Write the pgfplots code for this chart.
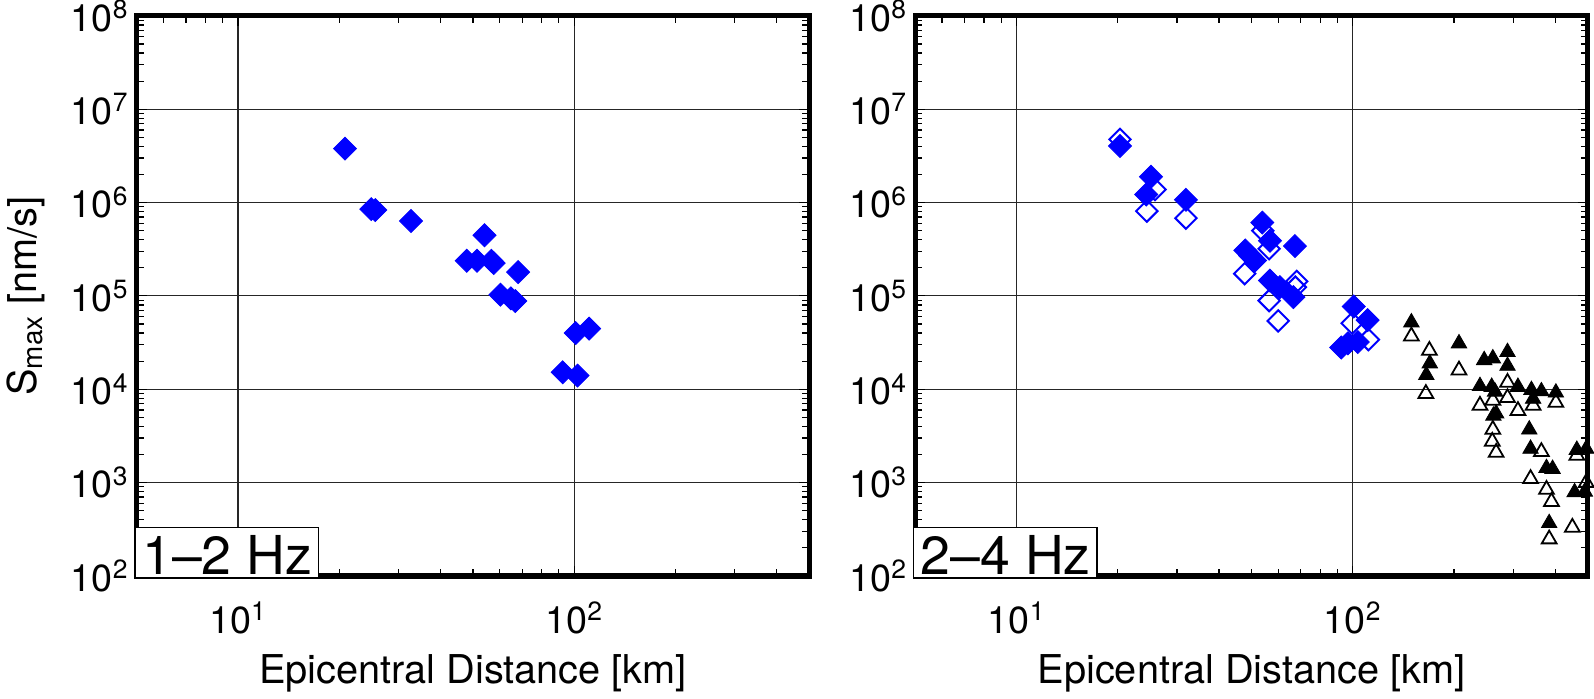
\documentclass[border=0pt]{standalone}
\usepackage{fontspec}
\setmainfont{TeX Gyre Heros}
\usepackage{pgfplots}
\pgfplotsset{compat=1.18}

% 1 px of the reference = 0.5pt
\pgfplotsset{
  panel/.style={
    scale only axis, width=338.5pt, height=282pt,
    xmin=5, xmax=500, ymin=1e2, ymax=1e8,
    xtick={10,100},
    xticklabels={10\textsuperscript{1},10\textsuperscript{2}},
    minor xtick={6,7,8,9,20,30,40,50,60,70,80,90,200,300,400},
    ytick={1e2,1e3,1e4,1e5,1e6,1e7,1e8},
    yticklabels={10\textsuperscript{2},10\textsuperscript{3},10\textsuperscript{4},
      10\textsuperscript{5},10\textsuperscript{6},10\textsuperscript{7},10\textsuperscript{8}},
    minor ytick={2e2,3e2,4e2,5e2,6e2,7e2,8e2,9e2,
                 2e3,3e3,4e3,5e3,6e3,7e3,8e3,9e3,
                 2e4,3e4,4e4,5e4,6e4,7e4,8e4,9e4,
                 2e5,3e5,4e5,5e5,6e5,7e5,8e5,9e5,
                 2e6,3e6,4e6,5e6,6e6,7e6,8e6,9e6,
                 2e7,3e7,4e7,5e7,6e7,7e7,8e7,9e7},
    grid=major, major grid style={black!85, line width=0.6pt},
    axis line style={line width=2.6pt},
    tick align=inside, major tick length=5pt, minor tick length=3.5pt,
    tick style={black, line width=0.6pt},
    ticklabel style={font=\fontsize{19}{19}\selectfont},
    yticklabel style={inner sep=0pt, xshift=-4pt},
    xticklabel style={inner sep=0pt, anchor=north},
    xticklabel shift=13pt,
    label style={font=\fontsize{20}{20}\selectfont},
    xlabel style={at={(axis description cs:0.5,0)}, anchor=base, yshift=-54pt},
    xlabel={Epicentral Distance [km]},
  },
  fdia/.style={only marks, mark=square*, mark size=4.1pt,
    mark options={rotate=45, draw=blue, fill=blue, line width=0.4pt}},
  odia/.style={only marks, mark=square, mark size=3.8pt,
    mark options={rotate=45, draw=blue, line width=1pt}},
  ftri/.style={only marks, mark=triangle*, mark size=4.5pt,
    mark options={draw=black, fill=black, line width=0.4pt}},
  otri/.style={only marks, mark=triangle, mark size=4.3pt,
    mark options={draw=black, line width=0.9pt}},
}

\begin{document}
\begin{tikzpicture}
% ---------------- 1-2 Hz ----------------
\begin{loglogaxis}[panel,
    ylabel={S\textsubscript{max} [nm/s]},
    ylabel style={at={(axis description cs:0,0.5)}, anchor=center, yshift=56pt},
  ]
  \addplot[fdia] coordinates {
    (20.8,3.78e6) (24.9,8.5e5) (25.6,8.3e5) (32.7,6.35e5)
    (54.1,4.46e5) (47.9,2.38e5) (51.4,2.38e5) (56.7,2.38e5) (57.6,2.25e5)
    (68.1,1.8e5) (60.3,1.03e5) (64.8,9.4e4) (66.8,8.8e4)
    (101,4.0e4) (110.7,4.46e4) (92.4,1.52e4) (102.3,1.4e4)
  };
  \coordinate (Lsw) at (rel axis cs:0,0);
\end{loglogaxis}
% ---------------- 2-4 Hz ----------------
\begin{loglogaxis}[panel, at={(392pt,0pt)}]
  \addplot[fdia] coordinates {
    (20.3,4.04e6) (25.1,1.89e6) (24.3,1.22e6) (31.9,1.07e6)
    (53.8,6.1e5) (56.7,3.9e5) (67.3,3.42e5) (47.9,3.07e5) (49.5,2.7e5) (51.2,2.4e5)
    (56.7,1.46e5) (60.7,1.24e5) (66.6,9.7e4)
    (100.7,7.7e4) (110.7,5.5e4) (92.4,2.8e4) (96.7,3.1e4) (103.5,3.2e4)
  };
  \addplot[odia] coordinates {
    (20.3,4.75e6) (25.8,1.38e6) (24.4,8.1e5) (31.9,6.8e5)
    (54,5.0e5) (56.4,3.2e5) (47.7,1.73e5) (68.1,1.43e5) (67.5,1.24e5)
    (56.4,8.9e4) (60,5.4e4) (99.6,5.1e4) (111.3,3.4e4)
  };
  \addplot[ftri] coordinates {
    (149.4,5.2e4) (169.5,1.89e4) (165.5,1.42e4) (207,3.1e4)
    (246,2.05e4) (261,2.14e4) (288.6,2.5e4) (288.6,1.78e4)
    (239,1.08e4) (259,1.06e4) (265,9.4e3) (310,1.06e4) (340,9.8e3)
    (364,9.5e3) (402,9.2e3) (344,7.9e3) (262,5.2e3) (267,5.5e3)
    (335,3.7e3) (338,2.3e3) (377,1.43e3) (393,1.4e3) (384,368)
    (457,787) (464,2.24e3) (490,800) (495,2.3e3)
  };
  \addplot[otri] coordinates {
    (149.4,3.7e4) (169,2.6e4) (165,8.97e3) (207,1.6e4)
    (239,6.7e3) (261,7.6e3) (261,3.7e3) (260,2.76e3) (267,2.1e3)
    (288.6,1.18e4) (288.6,8.1e3) (310,5.9e3) (344,6.7e3) (402,7.2e3)
    (364,2.14e3) (338,1.1e3) (377,842) (390,625) (384,248)
    (450,331) (464,1.95e3) (495,1.0e3)
  };
  \coordinate (Rsw) at (rel axis cs:0,0);
\end{loglogaxis}
% panel labels, drawn over the frame
\foreach \c/\t in {Lsw/1--2 Hz, Rsw/2--4 Hz} {
  \draw[fill=white, line width=0.7pt] ([xshift=-1pt,yshift=-1pt]\c) rectangle ++(92.5pt,25.5pt);
  \node[anchor=base west, inner sep=0pt, font=\fontsize{27}{27}\selectfont]
    at ([xshift=2.5pt,yshift=0.8pt]\c) {\t};
}
\end{tikzpicture}
\end{document}
